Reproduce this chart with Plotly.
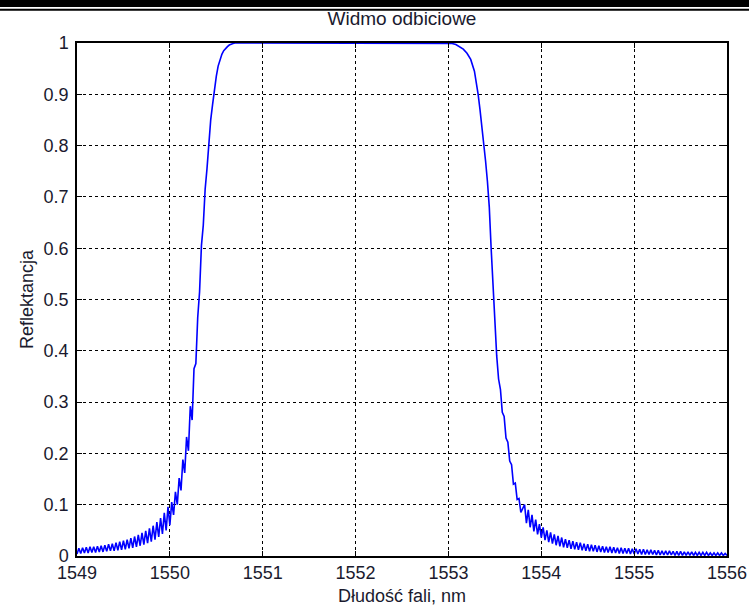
import numpy as np
import plotly.graph_objects as go

# wavelength sampling (nm) for each part of the spectrum
left_tail_wl = np.round(np.arange(1549.00, 1550.001, 0.02), 2)
rise_wl = np.round(np.arange(1550.02, 1550.701, 0.02), 2)
plateau_wl = [1550.8, 1551.0, 1551.2, 1551.4, 1551.6, 1551.8, 1552.0, 1552.2,
              1552.4, 1552.6, 1552.8, 1553.0]
fall_wl = [1553.04, 1553.08, 1553.12, 1553.16, 1553.20, 1553.24, 1553.28, 1553.30,
           1553.32, 1553.34, 1553.36, 1553.38, 1553.40, 1553.42, 1553.44, 1553.46,
           1553.48, 1553.50, 1553.52, 1553.54, 1553.56, 1553.58, 1553.60, 1553.62,
           1553.64, 1553.66, 1553.68, 1553.70, 1553.72, 1553.74, 1553.76, 1553.78,
           1553.80]
right_tail_wl = np.round(np.arange(1553.82, 1556.001, 0.02), 2)

# reflectance
left_tail_r = [0.004, 0.015, 0.005, 0.016, 0.006, 0.017, 0.006, 0.018, 0.007, 0.018,
               0.007, 0.019, 0.008, 0.020, 0.008, 0.021, 0.009, 0.023, 0.010, 0.024,
               0.010, 0.026, 0.011, 0.028, 0.012, 0.030, 0.013, 0.032, 0.015, 0.035,
               0.016, 0.038, 0.018, 0.041, 0.020, 0.045, 0.022, 0.049, 0.025, 0.054,
               0.028, 0.059, 0.032, 0.066, 0.037, 0.074, 0.043, 0.084, 0.050, 0.096,
               0.060]
rise_r = [0.105, 0.080, 0.125, 0.100, 0.152, 0.128, 0.188, 0.162, 0.232, 0.205,
          0.292, 0.265, 0.365, 0.375, 0.465, 0.515, 0.605, 0.645, 0.715, 0.755,
          0.805, 0.850, 0.880, 0.910, 0.935, 0.955, 0.968, 0.978, 0.985, 0.990,
          0.993, 0.996, 0.998, 0.999, 1.000]
plateau_r = [1.0] * 12
fall_r = [0.999, 0.997, 0.993, 0.988, 0.980, 0.968, 0.945, 0.925, 0.900, 0.870,
          0.840, 0.805, 0.770, 0.730, 0.680, 0.600, 0.520, 0.440, 0.390, 0.345,
          0.325, 0.280, 0.272, 0.230, 0.222, 0.185, 0.178, 0.140, 0.142, 0.110,
          0.112, 0.085, 0.092]
right_tail_r = [0.100, 0.064, 0.090, 0.056, 0.080, 0.048, 0.071, 0.042, 0.062, 0.036,
                0.056, 0.031, 0.050, 0.027, 0.046, 0.024, 0.042, 0.021, 0.039, 0.019,
                0.036, 0.017, 0.033, 0.016, 0.031, 0.014, 0.029, 0.013, 0.027, 0.012,
                0.026, 0.011, 0.024, 0.010, 0.023, 0.009, 0.022, 0.009, 0.021, 0.008,
                0.020, 0.008, 0.019, 0.007, 0.018, 0.007, 0.018, 0.006, 0.017, 0.006,
                0.016, 0.005, 0.016, 0.005, 0.015, 0.005, 0.015, 0.004, 0.014, 0.004,
                0.014, 0.004, 0.013, 0.003, 0.013, 0.003, 0.012, 0.003, 0.012, 0.003,
                0.011, 0.002, 0.011, 0.002, 0.010, 0.002, 0.010, 0.002, 0.010, 0.002,
                0.009, 0.001, 0.009, 0.001, 0.009, 0.001, 0.008, 0.001, 0.008, 0.001,
                0.008, 0.001, 0.007, 0.001, 0.007, 0.001, 0.007, 0.001, 0.007, 0.001,
                0.006, 0.001, 0.006, 0.001, 0.006, 0.001, 0.006, 0.001, 0.005, 0.001]

wl = list(left_tail_wl) + list(rise_wl) + plateau_wl + fall_wl + list(right_tail_wl)
refl = left_tail_r + rise_r + plateau_r + fall_r + right_tail_r[:len(right_tail_wl)]

font = "Liberation Sans, Arial, sans-serif"
txt = "#1a1a2e"

fig = go.Figure()
fig.add_trace(go.Scatter(x=wl, y=refl, mode="lines",
                         line=dict(color="#0000ff", width=1.6), showlegend=False))

axis_common = dict(
    showline=True, linecolor="black", linewidth=1.5, mirror="allticks",
    ticks="inside", ticklen=5, tickcolor="black",
    showgrid=True, gridcolor="black", gridwidth=1, griddash="3px,3px",
    zeroline=False, tickfont=dict(family=font, size=18, color=txt),
)

fig.update_xaxes(range=[1549, 1556], dtick=1, **axis_common,
                 title=dict(text="Dłudość fali, nm", font=dict(family=font, size=18, color=txt),
                            standoff=7))
fig.update_yaxes(range=[0, 1], dtick=0.1, ticklabelstandoff=3, **axis_common,
                 title=dict(text="Reflektancja", font=dict(family=font, size=18, color=txt),
                            standoff=5))

# black header rule of the source document (pixel rows 0-7 and ~9-11)
fig.add_shape(type="rect", xref="paper", yref="paper", x0=-0.2, x1=1.1,
              y0=(556 - 7) / 513, y1=(556 + 5) / 513,
              fillcolor="black", line=dict(width=0), layer="above")
fig.add_shape(type="rect", xref="paper", yref="paper", x0=-0.2, x1=1.1,
              y0=(556 - 10.8) / 513, y1=(556 - 8.8) / 513,
              fillcolor="black", line=dict(width=0), layer="above")

fig.update_layout(
    width=749, height=608,
    margin=dict(l=77, r=22, t=43, b=52, autoexpand=False),
    paper_bgcolor="white", plot_bgcolor="white",
    title=dict(text="Widmo odbiciowe", x=0.5, xanchor="center", xref="paper",
               y=1 - 18 / 608, yanchor="middle",
               font=dict(family=font, size=19, color=txt)),
)

fig.write_html("out.html", config={"displayModeBar": False},
               post_script="document.body.style.margin='0';")
